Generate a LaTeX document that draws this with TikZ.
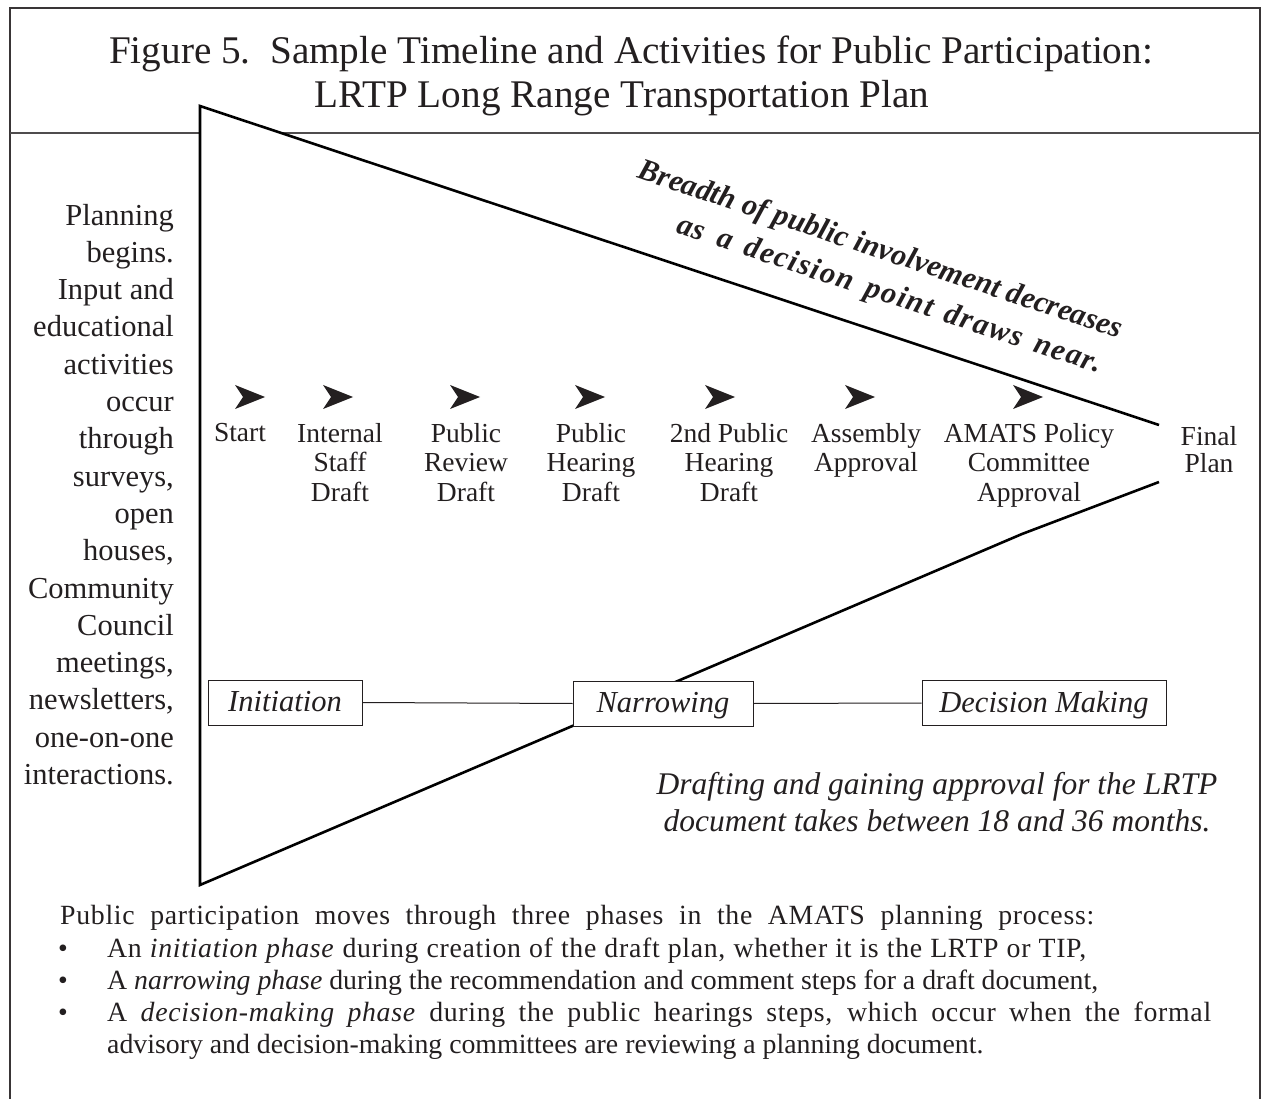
\documentclass[tikz,border=0pt]{standalone}
\usepackage{fontspec}
\setmainfont{Liberation Serif}
\definecolor{ink}{HTML}{231F20}
\begin{document}
\begin{tikzpicture}[x=1pt,y=-1pt,
  every node/.style={inner sep=0pt, text=ink},
  frame/.style={draw=ink!90, line width=2.6pt},
  rule/.style={draw=ink!80, line width=1.6pt},
  funnel/.style={draw=black, line width=2.6pt, line join=miter},
  phasebox/.style={draw=ink, line width=1pt, fill=white, minimum height=45pt,
    text height=23pt, text depth=5pt,
    font=\fontsize{30.5}{32}\selectfont\itshape},
  link/.style={draw=ink, line width=1pt},
  stage/.style={align=center, anchor=base, font=\fontsize{27.5}{29.5}\selectfont},
  slant/.style={rotate=-18.4, font=\fontsize{30.5}{37}\selectfont\bfseries\itshape},
  pointer/.pic={\fill[ink] (15,0) -- (-15,-12) -- (-7,0) -- (-15,12) -- cycle;},
  body/.style={anchor=base west, font=\fontsize{27.8}{32.3}\selectfont},
  spread/.style={font=\fontsize{27.8}{32.3}\selectfont\addfontfeature{LetterSpace=2.5}}]

\useasboundingbox (0,0) rectangle (1262,1099);

% outer frame (open at the bottom) and title rule
\draw[frame] (10,1099) -- (10,8) -- (1260,8) -- (1260,1099);
\draw[rule] (10,133) -- (1260,133);

% title
\node[anchor=base, font=\fontsize{39.2}{42}\selectfont] (title1) at (631,64)
  {Figure 5.\hspace{0.5em}Sample Timeline and Activities for Public Participation:};
\node[anchor=base, font=\fontsize{39.2}{42}\selectfont] (title2) at (622,108)
  {LRTP Long Range Transportation Plan};

% funnel
\coordinate (apex) at (200,106);
\coordinate (base) at (200,885);
\coordinate (toptip) at (1159,425);
\coordinate (bottip) at (1159,482);
\coordinate (kink) at (1022,534);
\fill[white] (apex) -- (toptip) -- (bottip) -- (kink) -- (base) -- cycle;
\draw[funnel] (toptip) -- (apex) -- (base) -- (kink) -- (bottip);

% slanted caption along the upper edge
\node[slant] (breadth1) at (880,251) {Breadth of public involvement decreases};
\node[slant] (breadth2) at (889,296)
  {\addfontfeature{LetterSpace=5}\makebox[446pt][s]{as a decision point draws near.}};

% left-hand description (anchored on its last line)
\node[anchor=base east, align=right, font=\fontsize{30.5}{37.3}\selectfont]
  (intro) at (174,784.5)
  {Planning\\begins.\\Input and\\educational\\activities\\occur\\through\\surveys,\\open\\houses,\\Community\\Council\\meetings,\\newsletters,\\one-on-one\\interactions.};

% step markers
\foreach \x/\n in {250/1,338/2,465/3,590/4,720/5,860/6,1028/7}
  \pic (m\n) at (\x,397) {pointer};

% step labels (anchored on their last line)
\node[stage] (s1) at (240,442) {Start};
\node[stage] (s2) at (340,501) {Internal\\Staff\\Draft};
\node[stage] (s3) at (466,501) {Public\\Review\\Draft};
\node[stage] (s4) at (591,501) {Public\\Hearing\\Draft};
\node[stage] (s5) at (729,501) {2nd Public\\Hearing\\Draft};
\node[stage] (s6) at (866,471.5) {Assembly\\Approval};
\node[stage] (s7) at (1029,501) {AMATS Policy\\Committee\\Approval};
\node[stage, font=\fontsize{27.5}{27}\selectfont] (s8) at (1209,472) {Final\\Plan};

% phases
\node[phasebox, minimum width=154pt] (init) at (285,702.5) {Initiation};
\node[phasebox, minimum width=180pt] (narrow) at (663,703.5) {Narrowing};
\node[phasebox, minimum width=244pt] (decide) at (1044,703) {Decision Making};
\draw[link] (init.east) -- (narrow.west);
\draw[link] (narrow.east) -- (decide.west);

% duration note
\node[align=center, anchor=base, font=\fontsize{31.5}{37}\selectfont\itshape]
  (duration) at (937,831)
  {Drafting and gaining approval for the LRTP\\document takes between 18 and 36 months.};

% phase summary
\node[body, spread] (sum) at (60,924)
  {\makebox[1034pt][s]{Public participation moves through three phases in the AMATS planning process:}};
\node[body] (b1) at (58,957) {\textbullet};
\node[body, spread] (t1) at (107,957)
  {\makebox[979pt][s]{An \textit{initiation phase} during creation of the draft plan, whether it is the LRTP or TIP,}};
\node[body] (b2) at (58,989.5) {\textbullet};
\node[body] (t2) at (107,989.5)
  {\makebox[991pt][s]{A \textit{narrowing phase} during the recommendation and comment steps for a draft document,}};
\node[body] (b3) at (58,1021.5) {\textbullet};
\node[body, spread] (t3a) at (107,1021.5)
  {\makebox[1104pt][s]{A \textit{decision-making phase} during the public hearings steps, which occur when the formal}};
\node[body] (t3b) at (107,1053.5)
  {advisory and decision-making committees are reviewing a planning document.};
\end{tikzpicture}
\end{document}
